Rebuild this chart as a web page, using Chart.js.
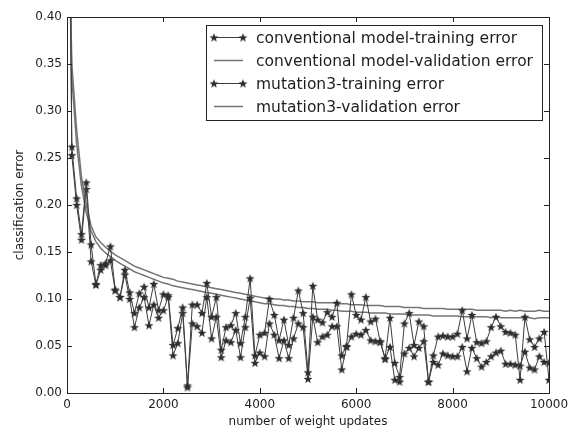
<!DOCTYPE html>
<html>
<head>
<meta charset="utf-8">
<script src="https://cdn.jsdelivr.net/npm/chart.js@4.4.1/dist/chart.umd.min.js"></script>
<style>
  html, body { margin: 0; padding: 0; background: #fff; }
  #wrap { width: 577px; height: 431px; }
</style>
</head>
<body>
<div id="wrap"><canvas id="errorChart" width="577" height="431"></canvas></div>
<script>
// number of weight updates (every 100)
const updates = [
  0, 100, 200, 300, 400, 500, 600, 700, 800, 900,
  1000, 1100, 1200, 1300, 1400, 1500, 1600, 1700, 1800, 1900,
  2000, 2100, 2200, 2300, 2400, 2500, 2600, 2700, 2800, 2900,
  3000, 3100, 3200, 3300, 3400, 3500, 3600, 3700, 3800, 3900,
  4000, 4100, 4200, 4300, 4400, 4500, 4600, 4700, 4800, 4900,
  5000, 5100, 5200, 5300, 5400, 5500, 5600, 5700, 5800, 5900,
  6000, 6100, 6200, 6300, 6400, 6500, 6600, 6700, 6800, 6900,
  7000, 7100, 7200, 7300, 7400, 7500, 7600, 7700, 7800, 7900,
  8000, 8100, 8200, 8300, 8400, 8500, 8600, 8700, 8800, 8900,
  9000, 9100, 9200, 9300, 9400, 9500, 9600, 9700, 9800, 9900,
  10000,
];

const convTrain = [
  0.900, 0.262, 0.207, 0.169, 0.224, 0.158, 0.116, 0.136, 0.138, 0.156,
  0.110, 0.102, 0.131, 0.107, 0.085, 0.106, 0.113, 0.091, 0.116, 0.088,
  0.105, 0.104, 0.051, 0.069, 0.091, 0.008, 0.094, 0.094, 0.085, 0.117,
  0.081, 0.102, 0.046, 0.070, 0.072, 0.085, 0.053, 0.081, 0.122, 0.040,
  0.062, 0.064, 0.100, 0.083, 0.056, 0.078, 0.051, 0.080, 0.109, 0.085,
  0.022, 0.114, 0.078, 0.075, 0.086, 0.081, 0.096, 0.040, 0.050, 0.105,
  0.083, 0.078, 0.102, 0.076, 0.079, 0.054, 0.037, 0.080, 0.032, 0.017,
  0.074, 0.085, 0.051, 0.076, 0.071, 0.012, 0.040, 0.060, 0.061, 0.060,
  0.060, 0.063, 0.088, 0.058, 0.083, 0.054, 0.053, 0.055, 0.070, 0.081,
  0.071, 0.065, 0.064, 0.062, 0.014, 0.081, 0.057, 0.049, 0.058, 0.065,
  0.014,
];

const convValid = [
  0.600, 0.350, 0.280, 0.230, 0.200, 0.178, 0.166, 0.160, 0.155, 0.151,
  0.147, 0.144, 0.141, 0.138, 0.135, 0.133, 0.131, 0.129, 0.127, 0.125,
  0.123, 0.122, 0.121, 0.119, 0.118, 0.117, 0.116, 0.115, 0.114, 0.113,
  0.112, 0.111, 0.110, 0.109, 0.108, 0.107, 0.106, 0.105, 0.104, 0.103,
  0.102, 0.101, 0.101, 0.100, 0.100, 0.099, 0.099, 0.098, 0.098, 0.097,
  0.097, 0.097, 0.096, 0.096, 0.096, 0.096, 0.095, 0.095, 0.095, 0.094,
  0.094, 0.094, 0.093, 0.093, 0.093, 0.093, 0.092, 0.092, 0.092, 0.092,
  0.091, 0.091, 0.091, 0.091, 0.090, 0.090, 0.090, 0.090, 0.090, 0.089,
  0.089, 0.089, 0.089, 0.089, 0.089, 0.088, 0.088, 0.088, 0.088, 0.088,
  0.088, 0.087, 0.088, 0.087, 0.088, 0.087, 0.087, 0.087, 0.088, 0.087,
  0.087,
];

const mutTrain = [
  0.850, 0.253, 0.200, 0.163, 0.217, 0.140, 0.115, 0.131, 0.136, 0.141,
  0.109, 0.102, 0.126, 0.100, 0.070, 0.091, 0.102, 0.072, 0.094, 0.080,
  0.088, 0.102, 0.040, 0.053, 0.085, 0.006, 0.074, 0.071, 0.064, 0.102,
  0.058, 0.081, 0.038, 0.056, 0.054, 0.067, 0.038, 0.070, 0.101, 0.032,
  0.043, 0.039, 0.074, 0.062, 0.037, 0.056, 0.037, 0.058, 0.074, 0.070,
  0.015, 0.081, 0.054, 0.060, 0.062, 0.071, 0.071, 0.025, 0.049, 0.060,
  0.063, 0.062, 0.067, 0.056, 0.055, 0.055, 0.036, 0.049, 0.014, 0.012,
  0.042, 0.048, 0.039, 0.048, 0.055, 0.012, 0.033, 0.030, 0.042, 0.040,
  0.039, 0.039, 0.049, 0.023, 0.048, 0.037, 0.028, 0.033, 0.039, 0.043,
  0.045, 0.031, 0.031, 0.030, 0.029, 0.044, 0.027, 0.025, 0.039, 0.033,
  0.032,
];

const mutValid = [
  0.580, 0.335, 0.265, 0.220, 0.192, 0.172, 0.161, 0.154, 0.149, 0.145,
  0.141, 0.138, 0.135, 0.132, 0.129, 0.127, 0.125, 0.123, 0.121, 0.119,
  0.117, 0.116, 0.114, 0.113, 0.112, 0.111, 0.110, 0.109, 0.108, 0.107,
  0.106, 0.105, 0.104, 0.103, 0.102, 0.101, 0.100, 0.099, 0.098, 0.097,
  0.096, 0.095, 0.095, 0.094, 0.093, 0.093, 0.092, 0.092, 0.091, 0.091,
  0.090, 0.090, 0.089, 0.089, 0.089, 0.088, 0.088, 0.087, 0.087, 0.087,
  0.086, 0.086, 0.086, 0.085, 0.085, 0.085, 0.085, 0.084, 0.084, 0.084,
  0.084, 0.083, 0.083, 0.083, 0.083, 0.083, 0.082, 0.082, 0.082, 0.082,
  0.082, 0.082, 0.081, 0.081, 0.081, 0.081, 0.081, 0.081, 0.080, 0.081,
  0.080, 0.080, 0.080, 0.080, 0.080, 0.080, 0.080, 0.079, 0.080, 0.080,
  0.080,
];

const xTicks = [0, 2000, 4000, 6000, 8000, 10000];
const yTicks = [0, 0.05, 0.1, 0.15, 0.2, 0.25, 0.3, 0.35, 0.4];

const colors = {
  train: "#3c3c3c",
  star: "#2e2e2e",
  valid: "#747474",
  text: "#1e1e1e",
  frame: "#222222",
};

const fontFamily = "'DejaVu Sans', sans-serif";

// filled 5-point star, like matplotlib's '*' marker
function makeStar(size, color) {
  const c = document.createElement("canvas");
  c.width = size;
  c.height = size;
  const g = c.getContext("2d");
  const cx = size / 2, cy = size / 2;
  const outer = size / 2 - 0.3, inner = outer * 0.42;
  g.beginPath();
  for (let i = 0; i < 10; i++) {
    const r = i % 2 === 0 ? outer : inner;
    const a = -Math.PI / 2 + (i * Math.PI) / 5;
    const px = cx + r * Math.cos(a), py = cy + r * Math.sin(a) + 0.4;
    if (i === 0) g.moveTo(px, py); else g.lineTo(px, py);
  }
  g.closePath();
  g.fillStyle = color;
  g.fill();
  return c;
}

const starImg = makeStar(10, colors.star);

const toPoints = (ys) => updates.map((x, i) => ({ x, y: ys[i] }));

// inward ticks on all four sides plus the box frame
const frameTicks = {
  id: "frameTicks",
  afterDatasetsDraw(chart) {
    const { ctx, chartArea: a, scales } = chart;
    ctx.save();
    ctx.strokeStyle = colors.frame;
    ctx.lineWidth = 1;
    ctx.beginPath();
    xTicks.forEach((v) => {
      const px = Math.round(scales.x.getPixelForValue(v)) + 0.5;
      ctx.moveTo(px, a.bottom); ctx.lineTo(px, a.bottom - 5);
      ctx.moveTo(px, a.top); ctx.lineTo(px, a.top + 5);
    });
    yTicks.forEach((v) => {
      const py = Math.round(scales.y.getPixelForValue(v)) + 0.5;
      ctx.moveTo(a.left, py); ctx.lineTo(a.left + 5, py);
      ctx.moveTo(a.right, py); ctx.lineTo(a.right - 5, py);
    });
    ctx.stroke();
    ctx.strokeRect(Math.round(a.left) + 0.5, Math.round(a.top) + 0.5,
      Math.round(a.right - a.left), Math.round(a.bottom - a.top));
    ctx.restore();
  },
};

// legend box in the upper right of the plot
const boxLegend = {
  id: "boxLegend",
  afterDraw(chart) {
    const { ctx } = chart;
    const box = { x: 206.5, y: 25.5, w: 336, h: 95 };
    ctx.save();
    ctx.fillStyle = "#fff";
    ctx.fillRect(box.x, box.y, box.w, box.h);
    ctx.strokeStyle = colors.frame;
    ctx.lineWidth = 1;
    ctx.strokeRect(box.x, box.y, box.w, box.h);
    ctx.font = "15.5px " + fontFamily;
    ctx.textBaseline = "middle";
    chart.data.datasets.forEach((ds, i) => {
      const y = 37.5 + i * 23;
      ctx.strokeStyle = ds.borderColor;
      ctx.lineWidth = ds.borderWidth;
      ctx.beginPath();
      ctx.moveTo(214, y);
      ctx.lineTo(243, y);
      ctx.stroke();
      if (ds.pointRadius > 0) {
        ctx.drawImage(starImg, 214 - 5, y - 5);
        ctx.drawImage(starImg, 243 - 5, y - 5);
      }
      ctx.fillStyle = colors.text;
      ctx.fillText(ds.label, 256, y + 1);
    });
    ctx.restore();
  },
};

new Chart(document.getElementById("errorChart"), {
  type: "line",
  data: {
    datasets: [
      {
        label: "conventional model-training error",
        data: toPoints(convTrain),
        borderColor: colors.train,
        borderWidth: 1,
        pointStyle: starImg,
        pointRadius: 4,
      },
      {
        label: "conventional model-validation error",
        data: toPoints(convValid),
        borderColor: colors.valid,
        borderWidth: 1.5,
        pointRadius: 0,
      },
      {
        label: "mutation3-training error",
        data: toPoints(mutTrain),
        borderColor: colors.train,
        borderWidth: 1,
        pointStyle: starImg,
        pointRadius: 4,
      },
      {
        label: "mutation3-validation error",
        data: toPoints(mutValid),
        borderColor: colors.valid,
        borderWidth: 1.5,
        pointRadius: 0,
      },
    ],
  },
  options: {
    responsive: false,
    animation: false,
    devicePixelRatio: 1,
    layout: { padding: { top: 17, right: 28, left: 0, bottom: 0 } },
    elements: { line: { tension: 0, fill: false } },
    plugins: {
      legend: { display: false },
      tooltip: { enabled: false },
    },
    scales: {
      x: {
        type: "linear",
        min: 0,
        max: 10000,
        afterBuildTicks(scale) {
          scale.ticks = xTicks.map((value) => ({ value }));
        },
        afterFit(scale) { scale.height = 38; },
        grid: { display: false, drawTicks: false },
        border: { display: false },
        ticks: {
          color: colors.text,
          padding: 5,
          maxRotation: 0,
          font: { family: fontFamily, size: 12 },
          callback: (v) => String(v),
        },
        title: {
          display: true,
          text: "number of weight updates",
          color: colors.text,
          padding: { top: 0, bottom: 2 },
          font: { family: fontFamily, size: 12 },
        },
      },
      y: {
        min: 0,
        max: 0.4,
        afterBuildTicks(scale) {
          scale.ticks = yTicks.map((value) => ({ value }));
        },
        afterFit(scale) { scale.width = 67; },
        grid: { display: false, drawTicks: false },
        border: { display: false },
        ticks: {
          color: colors.text,
          padding: 5,
          font: { family: fontFamily, size: 12 },
          callback: (v) => v.toFixed(2),
        },
        title: {
          display: true,
          text: "classification error",
          color: colors.text,
          padding: { top: 13, bottom: 0 },
          font: { family: fontFamily, size: 12 },
        },
      },
    },
  },
  plugins: [frameTicks, boxLegend],
});
</script>
</body>
</html>
